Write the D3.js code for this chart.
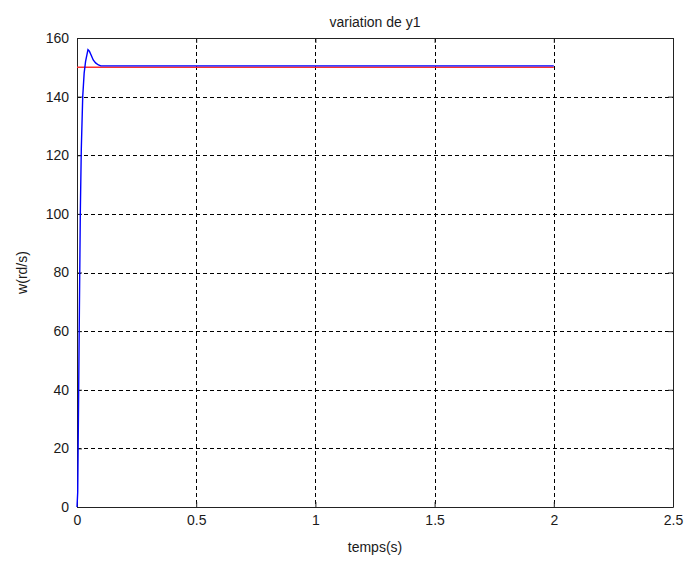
<!DOCTYPE html>
<html>
<head>
<meta charset="utf-8">
<script src="https://cdn.jsdelivr.net/npm/d3@7"></script>
<style>
	body { margin: 0; background: #fff; }
	svg text { font-family: "Liberation Sans", Arial, sans-serif; fill: #1a1a1a; }
</style>
</head>
<body>
<figure id="chart" style="margin:0"></figure>
<script>
// time axis (s) and the two signals
var temps = [0, 0.003, 0.006, 0.010, 0.014, 0.018, 0.024, 0.030, 0.036, 0.046, 0.052, 0.060, 0.068, 0.078, 0.090, 0.100, 0.5, 1, 1.5, 2];
var y1 = [0, 5, 31, 67, 101, 122, 140, 148, 152, 156, 155.5, 154, 152.5, 151.5, 150.8, 150.5, 150.5, 150.5, 150.5, 150.5];
var refT = [0, 2];
var refY = [150, 150];

var xTicks = [0, 0.5, 1, 1.5, 2, 2.5];
var yTicks = [0, 20, 40, 60, 80, 100, 120, 140, 160];

var dimensions = {
	width: 687,
	height: 563,
	margin: { top: 38, right: 14, bottom: 56, left: 77 }
};
dimensions.boundedWidth = dimensions.width - dimensions.margin.left - dimensions.margin.right;
dimensions.boundedHeight = dimensions.height - dimensions.margin.top - dimensions.margin.bottom;

var svg = d3.select("figure#chart")
	.append("svg")
	.attr("width", dimensions.width)
	.attr("height", dimensions.height);

var plot = svg.append("g")
	.attr("transform", `translate(${dimensions.margin.left},${dimensions.margin.top})`);

var xScale = d3.scaleLinear()
	.domain([0, 2.5])
	.range([0, dimensions.boundedWidth]);

var yScale = d3.scaleLinear()
	.domain([0, 160])
	.range([dimensions.boundedHeight, 0]);

// dashed grid (inner ticks only)
plot.append("g")
	.selectAll("line")
	.data(xTicks.slice(1, -1))
	.enter()
	.append("line")
	.attr("x1", d => Math.round(xScale(d)) + 0.5)
	.attr("x2", d => Math.round(xScale(d)) + 0.5)
	.attr("y1", 0)
	.attr("y2", dimensions.boundedHeight)
	.attr("stroke", "#000")
	.attr("stroke-dasharray", "4,3");

plot.append("g")
	.selectAll("line")
	.data(yTicks.slice(1, -1))
	.enter()
	.append("line")
	.attr("y1", d => Math.round(yScale(d)) + 0.5)
	.attr("y2", d => Math.round(yScale(d)) + 0.5)
	.attr("x1", 0)
	.attr("x2", dimensions.boundedWidth)
	.attr("stroke", "#000")
	.attr("stroke-dasharray", "4,3");

// axes, matlab style: ticks pointing inwards
var xAxis = plot.append("g")
	.attr("transform", `translate(0,${dimensions.boundedHeight})`)
	.call(d3.axisBottom(xScale).tickValues(xTicks).tickFormat(d3.format("")).tickSizeInner(-5).tickSizeOuter(0).tickPadding(8));

plot.append("g")
	.call(d3.axisTop(xScale).tickValues(xTicks).tickFormat("").tickSizeInner(-5).tickSizeOuter(0));

var yAxis = plot.append("g")
	.call(d3.axisLeft(yScale).tickValues(yTicks).tickSizeInner(-5).tickSizeOuter(0).tickPadding(8));

plot.append("g")
	.attr("transform", `translate(${dimensions.boundedWidth},0)`)
	.call(d3.axisRight(yScale).tickValues(yTicks).tickFormat("").tickSizeInner(-5).tickSizeOuter(0));

plot.selectAll(".domain, .tick line").attr("stroke", "#222");
plot.selectAll(".tick text").style("font-size", "14px").style("fill", "#1a1a1a");

// signals
var line = d3.line()
	.x(d => xScale(d[0]))
	.y(d => yScale(d[1]));

plot.append("path")
	.datum(d3.zip(refT, refY))
	.attr("d", line)
	.attr("fill", "none")
	.attr("stroke", "#ff3030")
	.attr("stroke-width", 1.5);

plot.append("path")
	.datum(d3.zip(temps, y1))
	.attr("d", line)
	.attr("fill", "none")
	.attr("stroke", "#0000ff")
	.attr("stroke-width", 1.4);

// labels
svg.append("text")
	.attr("x", dimensions.margin.left + dimensions.boundedWidth / 2)
	.attr("y", 27)
	.attr("text-anchor", "middle")
	.style("font-size", "14px")
	.text("variation de y1");

svg.append("text")
	.attr("x", dimensions.margin.left + dimensions.boundedWidth / 2)
	.attr("y", 552)
	.attr("text-anchor", "middle")
	.style("font-size", "14px")
	.text("temps(s)");

svg.append("text")
	.attr("transform", `translate(27,${dimensions.margin.top + dimensions.boundedHeight / 2}) rotate(-90)`)
	.attr("text-anchor", "middle")
	.style("font-size", "14px")
	.text("w(rd/s)");
</script>
</body>
</html>
